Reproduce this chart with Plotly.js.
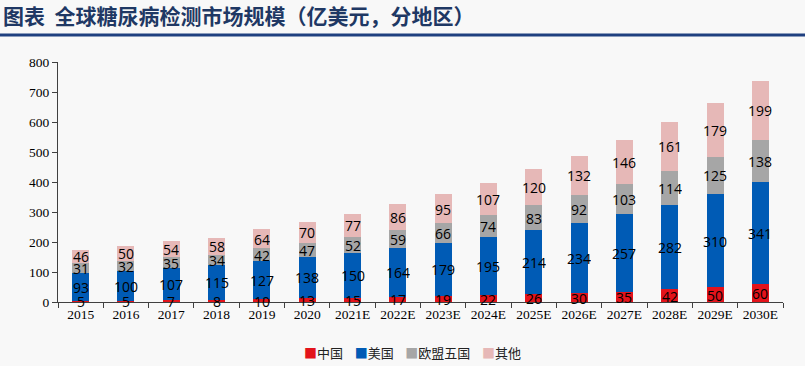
<!DOCTYPE html>
<html><head><meta charset="utf-8">
<script src="https://cdn.plot.ly/plotly-3.0.1.min.js"></script>
<style>html,body{margin:0;padding:0;background:#f8f8f8;}#chart{width:805px;height:366px;}</style>
</head><body><div id="chart"></div>
<script>
const years = ['2015','2016','2017','2018','2019','2020','2021E','2022E','2023E','2024E','2025E','2026E','2027E','2028E','2029E','2030E'];
const china = [5,5,7,8,10,13,15,17,19,22,26,30,35,42,50,60];
const usa   = [93,100,107,115,127,138,150,164,179,195,214,234,257,282,310,341];
const eu5   = [31,32,35,34,42,47,52,59,66,74,83,92,103,114,125,138];
const other = [46,50,54,58,64,70,77,86,95,107,120,132,146,161,179,199];
const seriesNames = ['中国','美国','欧盟五国','其他'];
const seriesColors = ['#e3131b','#005bb5','#a6a6a6','#e6b8b7'];
const titleText = '图表  全球糖尿病检测市场规模（亿美元，分地区）';

const L = 58, R = 22, T = 62, B = 64, W = 805, H = 366;
const pw = W - L - R, ph = H - T - B;

const series = [china, usa, eu5, other];
const data = series.map((vals, i) => ({
  type: 'bar', x: years, y: vals, name: seriesNames[i],
  marker: {color: seriesColors[i], line: {width: 0}},
  hoverinfo: 'skip', showlegend: false
}));

// value labels centred in each stacked segment (category index, data y)
const labelAnns = [];
years.forEach((yr, j) => {
  let base = 0;
  series.forEach(vals => {
    const v = vals[j];
    labelAnns.push({xref: 'x', yref: 'y', x: j, y: base + v / 2, text: String(v),
      showarrow: false, xanchor: 'center', yanchor: 'middle', valign: 'middle',
      height: 12, borderpad: 0,
      font: {family: 'Open Sans, Noto Sans, sans-serif', size: 14, color: '#000'}});
    base += v;
  });
});

const legendText = seriesNames.map((n, i) =>
  '<span style="color:' + seriesColors[i] + '">■</span>' + n).join('    ');

const layout = {
  width: W, height: H,
  margin: {l: L, r: R, t: T, b: B},
  paper_bgcolor: '#f8f8f8', plot_bgcolor: '#f8f8f8',
  barmode: 'stack', bargap: 0.625,
  showlegend: false,
  title: {text: titleText, x: 3 / W, xanchor: 'left', xref: 'container',
          y: 1 - 17 / H, yanchor: 'middle', yref: 'container',
          font: {family: 'Noto Sans CJK SC, sans-serif', size: 21, color: '#1f3864', weight: 'bold'}},
  xaxis: {type: 'category', categoryorder: 'array', categoryarray: years,
          range: [-0.5, years.length - 0.5],
          tickson: 'boundaries', ticks: 'outside', ticklen: 5,
          tickcolor: '#404040', showline: true, linecolor: '#404040', linewidth: 1,
          showgrid: false, zeroline: false,
          tickfont: {family: 'Liberation Serif, Times New Roman, serif', size: 13.5, color: '#000'}},
  yaxis: {range: [0, 800], dtick: 100, ticks: 'outside', ticklen: 5,
          tickcolor: '#404040', showline: true, linecolor: '#404040', linewidth: 1,
          showgrid: false, zeroline: false,
          tickfont: {family: 'Liberation Serif, Times New Roman, serif', size: 13.5, color: '#000'}},
  shapes: [{type: 'line', xref: 'paper', yref: 'paper',
            x0: -L / pw, x1: (W - L) / pw,
            y0: (H - B - 35) / ph, y1: (H - B - 35) / ph,
            line: {color: '#1f4080', width: 3}}],
  annotations: labelAnns.concat([{xref: 'paper', yref: 'paper', x: (412 - L) / pw, y: (302 - 352) / ph,
                 xanchor: 'center', yanchor: 'middle', showarrow: false, text: legendText,
                 font: {family: 'Noto Sans CJK SC, sans-serif', size: 13, color: '#222'}}])
};

Plotly.newPlot('chart', data, layout, {staticPlot: true, displayModeBar: false});
</script></body></html>
